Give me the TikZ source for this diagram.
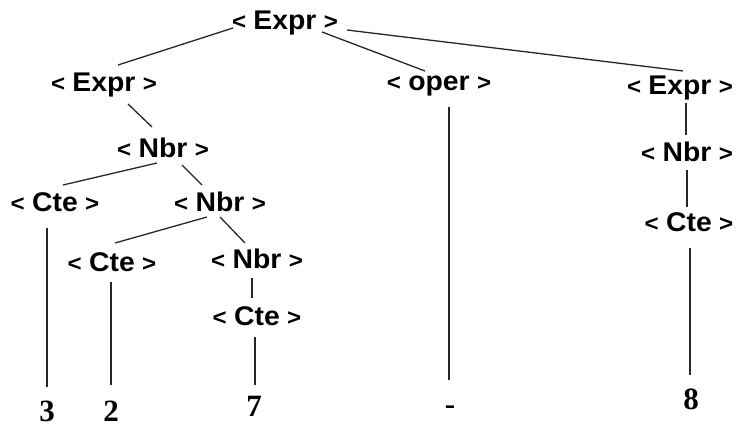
\documentclass[tikz,border=0pt]{standalone}
\usepackage{fontspec}
\usepackage{graphicx}
\usetikzlibrary{calc}
\newfontfamily\ntfont{Liberation Sans}
\newfontfamily\digfont{Liberation Serif}
\newcommand{\chev}[1]{\scalebox{0.85}{#1}}
\newcommand{\ntlabel}[1]{\scalebox{1.05}[1]{\ntfont\bfseries\fontsize{27}{27}\selectfont \chev{<}\hspace{7pt}#1\hspace{7pt}\chev{>}}}
\begin{document}
\begin{tikzpicture}[x=1pt,y=-1pt,
  nt/.style={inner sep=0pt,anchor=base},
  leaf/.style={inner sep=0pt,anchor=base,font=\digfont\bfseries\fontsize{31}{31}\selectfont},
  edge/.style={line width=1.3pt,black!85}]
\useasboundingbox (0,0) rectangle (739,428);
\node[nt] (root) at (285,30) {\ntlabel{Expr}};
\node[nt] (e1) at (104,92) {\ntlabel{Expr}};
\node[nt] (op) at (439,91) {\ntlabel{oper}};
\node[nt] (e3) at (680,94) {\ntlabel{Expr}};
\node[nt] (n1) at (163,157) {\ntlabel{Nbr}};
\node[nt] (c1) at (55,211) {\ntlabel{Cte}};
\node[nt] (n2) at (220,211) {\ntlabel{Nbr}};
\node[nt] (c2) at (112,271) {\ntlabel{Cte}};
\node[nt] (n3) at (257,268) {\ntlabel{Nbr}};
\node[nt] (c3) at (257,325) {\ntlabel{Cte}};
\node[nt] (n4) at (687,161) {\ntlabel{Nbr}};
\node[nt] (c4) at (689,231) {\ntlabel{Cte}};
\node[leaf] (l3) at (47,421) {3};
\node[leaf] (l2) at (111,421) {2};
\node[leaf] (l7) at (254,416) {7};
\node[leaf] (lm) at (450,414) {-};
\node[leaf] (l8) at (691,409) {8};
\draw[edge] ($(root.base)+(-52,-2)$) -- ($(e1.base)+(14,-27)$);
\draw[edge] ($(root.base)+(37,2)$) -- ($(op.base)+(-14,-20)$);
\draw[edge] ($(root.base)+(62,0)$) -- ($(e3.base)+(3,-23)$);
\draw[edge] ($(e1.base)+(24,12)$) -- ($(n1.base)+(-11,-30)$);
\draw[edge] ($(n1.base)+(-6,6)$) -- ($(c1.base)+(8,-26)$);
\draw[edge] ($(n1.base)+(19,8)$) -- ($(n2.base)+(-18,-26)$);
\draw[edge] ($(n2.base)+(-13,6)$) -- ($(c2.base)+(3,-28)$);
\draw[edge] ($(n2.base)+(0,6)$) -- ($(n3.base)+(-12,-25)$);
\draw[edge] ($(n3.base)+(-5,10)$) -- ($(c3.base)+(-5,-27)$);
\draw[edge] ($(c3.base)+(-2,12)$) -- ($(l7.base)+(1,-31)$);
\draw[edge] ($(c1.base)+(-8,17)$) -- ($(l3.base)+(0,-34)$);
\draw[edge] ($(c2.base)+(-1,11)$) -- ($(l2.base)+(0,-36)$);
\draw[edge] ($(op.base)+(10,16)$) -- ($(lm.base)+(-1,-34)$);
\draw[edge] ($(e3.base)+(6,9)$) -- ($(n4.base)+(-1,-26)$);
\draw[edge] ($(n4.base)+(0,9)$) -- ($(c4.base)+(-2,-24)$);
\draw[edge] ($(c4.base)+(1,17)$) -- ($(l8.base)+(-1,-34)$);
\end{tikzpicture}
\end{document}
